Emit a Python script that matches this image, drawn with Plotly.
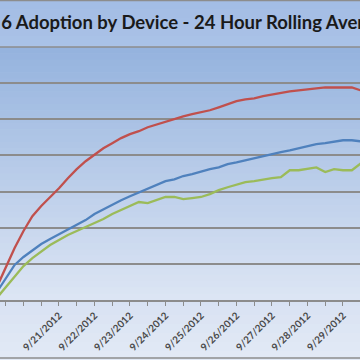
import plotly.graph_objects as go
import pandas as pd

# ---- data (percent of devices on iOS 6), sampled every 6 hours ----
start_time = "2012-09-19 06:00"
n_points = 43
times = list(pd.date_range(start_time, periods=n_points, freq="6h"))

red_values = [3.6, 9.1, 14.4, 19.1, 23.2, 26.0, 28.5, 30.9, 33.7, 36.2,
              38.4, 40.3, 42.0, 43.4, 44.8, 45.9, 46.7, 47.8, 48.6, 49.4,
              50.0, 50.8, 51.4, 51.9, 52.5, 53.3, 54.1, 55.0, 55.5, 55.8,
              56.4, 56.9, 57.2, 57.7, 58.0, 58.3, 58.7, 58.8, 58.8, 58.8,
              58.8, 58.0, 57.2]
blue_values = [2.2, 6.1, 9.7, 11.9, 13.8, 15.5, 16.9, 18.2, 19.3, 20.7,
               22.1, 23.8, 25.1, 26.5, 27.6, 28.7, 29.8, 30.9, 32.0, 32.9,
               33.4, 34.3, 34.8, 35.6, 36.2, 36.7, 37.6, 38.1, 38.7, 39.2,
               39.8, 40.3, 40.9, 41.4, 42.0, 42.5, 43.1, 43.4, 43.8, 44.2,
               44.2, 43.9, 43.9]
green_values = [0.6, 3.6, 6.6, 9.4, 11.6, 13.5, 15.2, 16.6, 18.0, 19.1,
                20.2, 21.3, 22.4, 23.8, 24.9, 26.0, 27.1, 26.8, 27.6, 28.5,
                28.5, 27.9, 28.2, 28.5, 29.3, 30.4, 31.2, 31.8, 32.6, 32.9,
                33.4, 33.7, 34.0, 35.9, 35.9, 36.2, 36.7, 35.4, 36.2, 35.9,
                35.9, 37.8, 38.7]

title_text = "iOS 6 Adoption by Device - 24 Hour Rolling Average"
y_ticks = [0, 10, 20, 30, 40, 50, 60, 70]
x_view = ["2012-09-19 08:07", "2012-09-29 11:30"]

RED, BLUE, GREEN = "#c0504d", "#4f81bd", "#9bbb59"
GRID = "#8c8c8c"

fig = go.Figure()
for vals, col in [(green_values, GREEN), (blue_values, BLUE), (red_values, RED)]:
    fig.add_trace(go.Scatter(x=times, y=vals, mode="lines",
                             line=dict(color=col, width=2.3), showlegend=False,
                             hoverinfo="skip"))

# plot area: pixel rows 47 (top) .. 300 (bottom)
TOP, BOT = 47, 300
def py(p):
    return (BOT - p) / (BOT - TOP)

def mix(c1, c2, t):
    return "rgb(%d,%d,%d)" % tuple(round(a + (b - a) * t) for a, b in zip(c1, c2))

shapes = []
N = 40
# chart-area gradient
c_top, c_bot = (163, 189, 229), (226, 233, 245)
for i in range(N):
    p0 = 360 * i / N
    p1 = 360 * (i + 1) / N + 0.5
    shapes.append(dict(type="rect", xref="paper", yref="paper", x0=-0.02, x1=1.02,
                       y0=py(p1), y1=py(p0), fillcolor=mix(c_top, c_bot, i / (N - 1)),
                       line=dict(width=0), layer="below"))
# plot-area gradient
c_top2, c_bot2 = (149, 179, 222), (220, 229, 244)
for i in range(N):
    p0 = TOP + (BOT - TOP) * i / N
    p1 = TOP + (BOT - TOP) * (i + 1) / N + 0.5
    shapes.append(dict(type="rect", xref="paper", yref="paper", x0=-0.02, x1=1.02,
                       y0=max(py(p1), 0), y1=py(p0), fillcolor=mix(c_top2, c_bot2, i / (N - 1)),
                       line=dict(width=0), layer="below"))
# top gridline (edge of range) and chart border lines
shapes.append(dict(type="line", xref="paper", yref="paper", x0=-0.02, x1=1.02,
                   y0=1, y1=1, line=dict(color=GRID, width=1.5)))
for p in (0.5, 358):
    shapes.append(dict(type="line", xref="paper", yref="paper", x0=-0.02, x1=1.02,
                       y0=py(p), y1=py(p), line=dict(color="#8c8c8c", width=1.5)))

fig.update_layout(
    width=360, height=360,
    margin=dict(l=0, r=0, t=TOP, b=360 - BOT),
    paper_bgcolor="#dfe7f4",
    plot_bgcolor="rgba(0,0,0,0)",
    shapes=shapes,
    annotations=[dict(text="<b>" + title_text + "</b>", xref="paper", yref="paper",
                      x=0, y=py(22), xanchor="left", yanchor="middle", xshift=-35,
                      showarrow=False, font=dict(family="Lato", size=18.5, color="#1a1a1a"))],
    xaxis=dict(type="date", range=x_view, tick0="2012-09-20", dtick=86400000,
               tickformat="%-m/%-d/%Y", tickangle=-45, ticks="outside", ticklen=4,
               tickcolor=GRID, showline=True, linecolor=GRID, linewidth=1.5,
               showgrid=False, zeroline=False,
               tickfont=dict(family="Lato", size=10, color="#4a4a4a", weight="bold"),
               minor=dict(dtick=43200000, tick0="2012-09-20", ticks="outside",
                          ticklen=4, tickcolor=GRID, showgrid=False)),
    yaxis=dict(range=[0, 70], tickvals=y_ticks, showticklabels=False,
               showgrid=True, gridcolor=GRID, gridwidth=1.5, zeroline=False,
               ticks=""),
)

fig.write_html("out.html", config={"displayModeBar": False},
               post_script="document.body.style.margin='0';document.body.style.overflow='hidden';")
